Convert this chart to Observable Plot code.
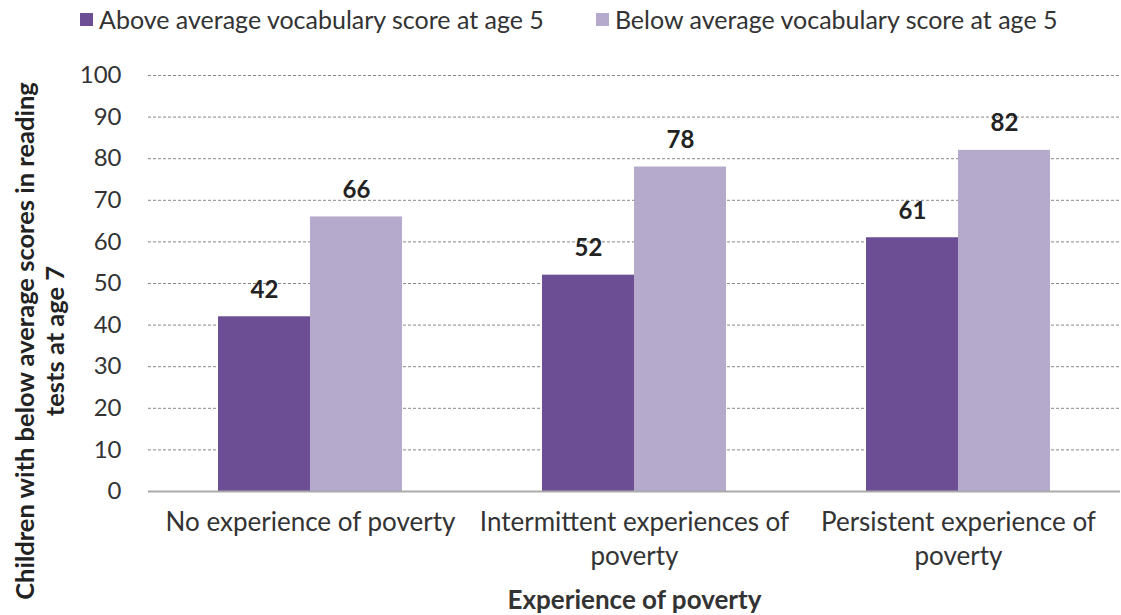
<!DOCTYPE html>
<html><head><meta charset="utf-8">
<script src="https://cdn.jsdelivr.net/npm/d3@7"></script>
<script src="https://cdn.jsdelivr.net/npm/@observablehq/plot@0.6"></script>
<style>
body{margin:0;background:#fff;font-family:Lato, sans-serif;}
#wrap{position:relative;width:1121px;height:615px;overflow:hidden;background:#fff}
#legend{position:absolute;top:0;left:80px;height:38px;display:flex;align-items:center;font-size:25px;color:#333;z-index:2}
.item{display:flex;align-items:center;margin-right:52px}
.sw{width:13px;height:13px;margin-right:6px}
#ytitle{position:absolute;left:39px;top:341px;transform:translate(-50%,-50%) rotate(-90deg);font-weight:bold;font-size:25.5px;text-align:center;white-space:nowrap;line-height:30px;color:#222;z-index:2}
#chart{position:absolute;top:40px;left:0;z-index:1}
#chart g[aria-label="fx-axis label"] text{font-weight:bold}
</style>
</head><body>
<div id="wrap">
  <div id="chart"></div>
  <div id="legend"></div>
  <div id="ytitle"></div>
</div>
<script>
const categories = ["No experience of poverty", "Intermittent experiences of poverty", "Persistent experience of poverty"];
const categoryLabels = ["No experience of poverty", "Intermittent experiences of\npoverty", "Persistent experience of\npoverty"];
const series = ["Above average vocabulary score at age 5", "Below average vocabulary score at age 5"];
const aboveValues = [42, 52, 61];
const belowValues = [66, 78, 82];
const yTicks = [0, 10, 20, 30, 40, 50, 60, 70, 80, 90, 100];
const colors = ["#6b4e93", "#b5aacb"];
const yTitleLines = ["Children with below average scores in reading", "tests at age 7"];
const xTitle = "Experience of poverty";

const data = categories.flatMap((c, i) => [
  {category: c, series: series[0], value: aboveValues[i]},
  {category: c, series: series[1], value: belowValues[i]}
]);

// legend
const legend = document.getElementById("legend");
series.forEach((s, i) => {
  const it = document.createElement("div");
  it.className = "item";
  const sw = document.createElement("div");
  sw.className = "sw";
  sw.style.background = colors[i];
  const t = document.createElement("span");
  t.textContent = s;
  it.appendChild(sw); it.appendChild(t);
  legend.appendChild(it);
});
document.getElementById("ytitle").innerHTML = yTitleLines.join("<br>");

const chart = Plot.plot({
  width: 1121,
  height: 575,
  marginTop: 35,
  marginLeft: 147,
  marginRight: 0,
  marginBottom: 124,
  style: {fontFamily: "Lato, sans-serif", fontSize: "22px", color: "#333", background: "#fff"},
  fx: {domain: categories, padding: 0},
  x: {domain: series, paddingInner: 0, paddingOuter: 0.755, axis: null},
  y: {domain: [0, 100]},
  color: {domain: series, range: colors},
  marks: [
    Plot.gridY(yTicks, {stroke: "#888", strokeOpacity: 1, strokeDasharray: "3,2"}),
    Plot.axisY(yTicks, {tickSize: 0, tickPadding: 27, fontSize: 24, label: null}),
    Plot.barY(data, {fx: "category", x: "series", y: "value", fill: "series"}),
    Plot.ruleY([0], {stroke: "#aaa", strokeWidth: 2}),
    Plot.text(data, {fx: "category", x: "series", y: "value", text: d => String(d.value), dy: -19, lineAnchor: "bottom", fontWeight: "bold", fontSize: 24, fill: "#222"}),
    Plot.axisFx({anchor: "bottom", tickSize: 0, tickPadding: 15, fontSize: 26, lineHeight: 1.31,
      tickFormat: c => categoryLabels[categories.indexOf(c)],
      label: xTitle, labelAnchor: "center", labelArrow: "none", labelOffset: 117})
  ]
});
document.getElementById("chart").appendChild(chart);
</script>
</body></html>
